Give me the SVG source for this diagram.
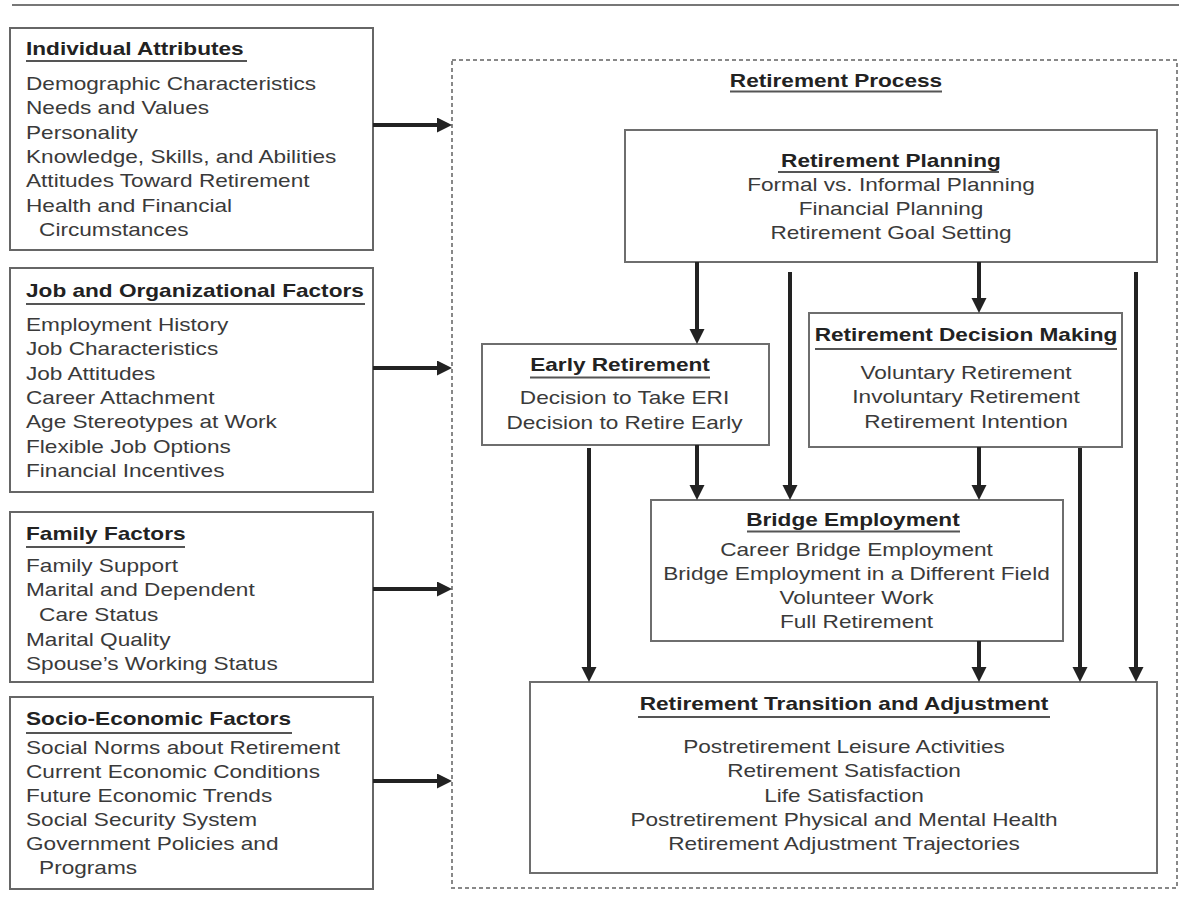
<svg xmlns="http://www.w3.org/2000/svg" width="1179" height="905" viewBox="0 0 1179 905">
<style>
.bx{fill:#fff;stroke:#666;stroke-width:2}
.ibx{fill:#fff;stroke:#6e6e6e;stroke-width:2}
.t{font-family:"Liberation Sans",Arial,Helvetica,sans-serif;font-size:19px;fill:#3a3a3a}
.h{font-family:"Liberation Sans",Arial,Helvetica,sans-serif;font-size:19px;font-weight:bold;fill:#222}
.c{text-anchor:middle}
.ul{stroke:#555;stroke-width:2}
.ar{stroke:#222;stroke-width:4;fill:none;marker-end:url(#ah)}
</style>
<defs>
<marker id="ah" markerUnits="userSpaceOnUse" markerWidth="16" markerHeight="16" refX="3" refY="7.5" orient="auto">
<path d="M0,0 L15,7.5 L0,15 z" fill="#222"/>
</marker>
</defs>
<rect width="1179" height="905" fill="#fff"/>
<line x1="12" y1="5" x2="1179" y2="5" stroke="#777" stroke-width="2"/>

<g id="retirement-process">
<rect x="452" y="60" width="725" height="828" fill="none" stroke="#888" stroke-width="2" stroke-dasharray="4 3"/>
<g transform="translate(836,0) scale(1.19,1)"><text class="h c" x="0" y="87">Retirement Process</text></g>
<line class="ul" x1="730" y1="91.5" x2="942" y2="91.5"/>
</g>

<g id="individual-attributes">
<rect class="bx" x="10" y="28" width="363" height="222"/>
<g transform="translate(26,0) scale(1.19,1)">
<text class="h" x="0" y="55">Individual Attributes</text>
<text class="t" x="0" y="90">Demographic Characteristics</text>
<text class="t" x="0" y="114.5">Needs and Values</text>
<text class="t" x="0" y="139">Personality</text>
<text class="t" x="0" y="163">Knowledge, Skills, and Abilities</text>
<text class="t" x="0" y="187.5">Attitudes Toward Retirement</text>
<text class="t" x="0" y="212">Health and Financial</text>
<text class="t" x="11" y="236">Circumstances</text>
</g>
<line class="ul" x1="26" y1="61" x2="247" y2="61"/>
</g>

<g id="job-organizational-factors">
<rect class="bx" x="10" y="268" width="363" height="224"/>
<g transform="translate(26,0) scale(1.19,1)">
<text class="h" x="0" y="297">Job and Organizational Factors</text>
<text class="t" x="0" y="331">Employment History</text>
<text class="t" x="0" y="355.5">Job Characteristics</text>
<text class="t" x="0" y="380">Job Attitudes</text>
<text class="t" x="0" y="404">Career Attachment</text>
<text class="t" x="0" y="428.5">Age Stereotypes at Work</text>
<text class="t" x="0" y="453">Flexible Job Options</text>
<text class="t" x="0" y="477">Financial Incentives</text>
</g>
<line class="ul" x1="26" y1="304" x2="365" y2="304"/>
</g>

<g id="family-factors">
<rect class="bx" x="10" y="512" width="363" height="170"/>
<g transform="translate(26,0) scale(1.19,1)">
<text class="h" x="0" y="540">Family Factors</text>
<text class="t" x="0" y="572">Family Support</text>
<text class="t" x="0" y="596.5">Marital and Dependent</text>
<text class="t" x="11" y="621">Care Status</text>
<text class="t" x="0" y="646">Marital Quality</text>
<text class="t" x="0" y="670.5">Spouse’s Working Status</text>
</g>
<line class="ul" x1="26" y1="547" x2="185" y2="547"/>
</g>

<g id="socio-economic-factors">
<rect class="bx" x="10" y="697" width="363" height="192"/>
<g transform="translate(26,0) scale(1.19,1)">
<text class="h" x="0" y="725">Socio-Economic Factors</text>
<text class="t" x="0" y="754.5">Social Norms about Retirement</text>
<text class="t" x="0" y="778.5">Current Economic Conditions</text>
<text class="t" x="0" y="802.5">Future Economic Trends</text>
<text class="t" x="0" y="826.5">Social Security System</text>
<text class="t" x="0" y="850.5">Government Policies and</text>
<text class="t" x="11" y="874.5">Programs</text>
</g>
<line class="ul" x1="26" y1="733" x2="292" y2="733"/>
</g>

<g id="retirement-planning">
<rect class="ibx" x="625" y="130" width="532" height="132"/>
<g transform="translate(891,0) scale(1.19,1)">
<text class="h c" x="0" y="167">Retirement Planning</text>
<text class="t c" x="0" y="191">Formal vs. Informal Planning</text>
<text class="t c" x="0" y="215">Financial Planning</text>
<text class="t c" x="0" y="239">Retirement Goal Setting</text>
</g>
<line class="ul" x1="778" y1="172" x2="999" y2="172"/>
</g>

<g id="early-retirement">
<rect class="ibx" x="482" y="344" width="287" height="101"/>
<g transform="translate(620,0) scale(1.19,1)">
<text class="h c" x="0" y="371.5">Early Retirement</text>
</g>
<g transform="translate(624.5,0) scale(1.19,1)">
<text class="t c" x="0" y="404">Decision to Take ERI</text>
<text class="t c" x="0" y="429">Decision to Retire Early</text>
</g>
<line class="ul" x1="530" y1="377.5" x2="710" y2="377.5"/>
</g>

<g id="retirement-decision-making">
<rect class="ibx" x="809" y="313" width="313" height="134"/>
<g transform="translate(966,0) scale(1.19,1)">
<text class="h c" x="0" y="341.5">Retirement Decision Making</text>
<text class="t c" x="0" y="379">Voluntary Retirement</text>
<text class="t c" x="0" y="403.5">Involuntary Retirement</text>
<text class="t c" x="0" y="428">Retirement Intention</text>
</g>
<line class="ul" x1="815" y1="349" x2="1117" y2="349"/>
</g>

<g id="bridge-employment">
<rect class="ibx" x="651" y="500" width="412" height="141"/>
<g transform="translate(856.5,0) scale(1.19,1)">
<text class="h c" x="-3" y="526">Bridge Employment</text>
<text class="t c" x="0" y="556">Career Bridge Employment</text>
<text class="t c" x="0" y="580">Bridge Employment in a Different Field</text>
<text class="t c" x="0" y="604.5">Volunteer Work</text>
<text class="t c" x="0" y="628.5">Full Retirement</text>
</g>
<line class="ul" x1="747" y1="531.5" x2="960" y2="531.5"/>
</g>

<g id="retirement-transition-adjustment">
<rect class="ibx" x="530" y="682" width="627" height="191"/>
<g transform="translate(844,0) scale(1.19,1)">
<text class="h c" x="0" y="710">Retirement Transition and Adjustment</text>
<text class="t c" x="0" y="753">Postretirement Leisure Activities</text>
<text class="t c" x="0" y="777.5">Retirement Satisfaction</text>
<text class="t c" x="0" y="802">Life Satisfaction</text>
<text class="t c" x="0" y="826">Postretirement Physical and Mental Health</text>
<text class="t c" x="0" y="850.5">Retirement Adjustment Trajectories</text>
</g>
<line class="ul" x1="638" y1="717" x2="1050" y2="717"/>
</g>

<g id="connectors">
<line class="ar" x1="373" y1="125" x2="440" y2="125"/>
<line class="ar" x1="373" y1="368" x2="440" y2="368"/>
<line class="ar" x1="373" y1="589" x2="440" y2="589"/>
<line class="ar" x1="373" y1="781" x2="440" y2="781"/>
<line class="ar" x1="697" y1="262" x2="697" y2="332"/>
<line class="ar" x1="790" y1="272" x2="790" y2="488"/>
<line class="ar" x1="979" y1="262" x2="979" y2="301"/>
<line class="ar" x1="1136" y1="272" x2="1136" y2="670"/>
<line class="ar" x1="589" y1="448" x2="589" y2="670"/>
<line class="ar" x1="697" y1="445" x2="697" y2="488"/>
<line class="ar" x1="979" y1="447" x2="979" y2="488"/>
<line class="ar" x1="1080" y1="448" x2="1080" y2="670"/>
<line class="ar" x1="979" y1="641" x2="979" y2="670"/>
</g>
</svg>
